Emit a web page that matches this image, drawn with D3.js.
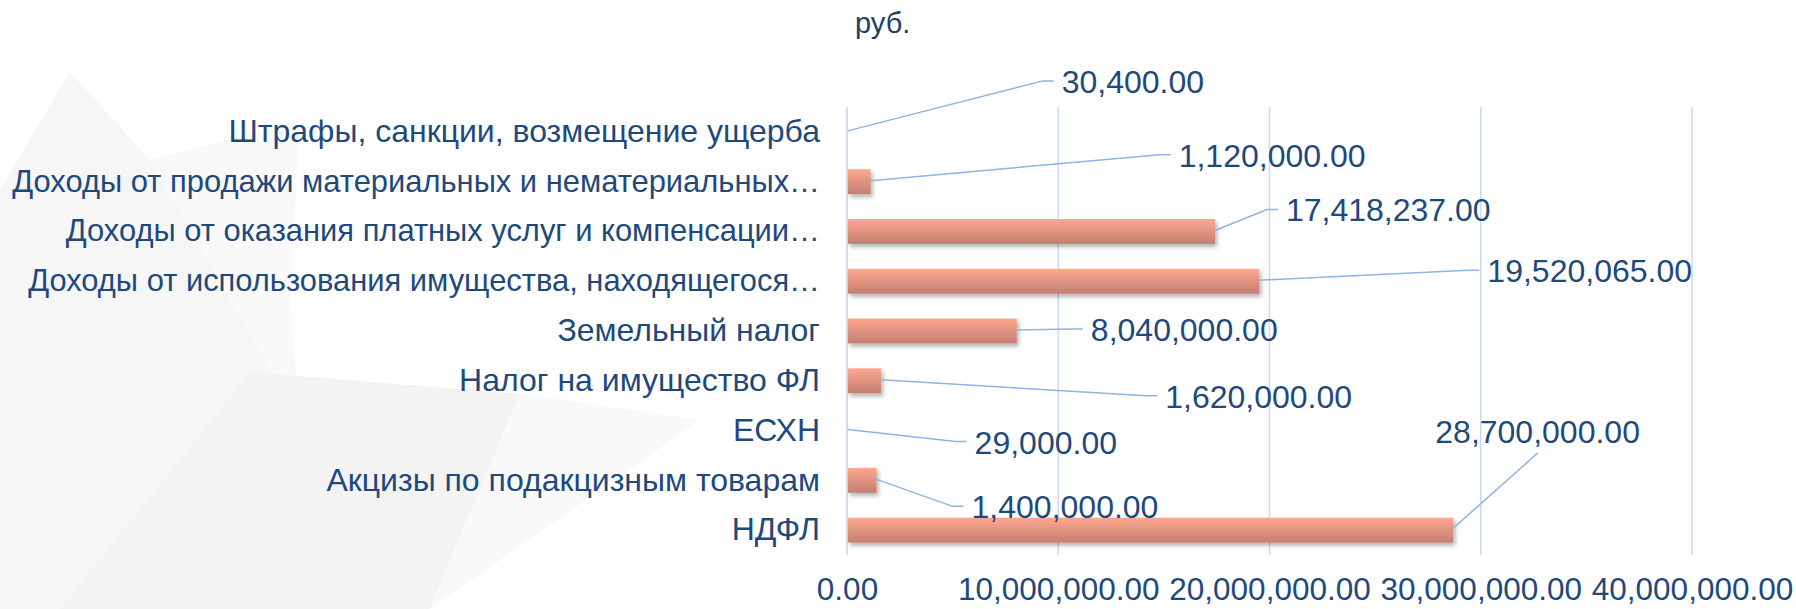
<!DOCTYPE html>
<html>
<head>
<meta charset="utf-8">
<script src="https://cdn.jsdelivr.net/npm/d3@7"></script>
<style>
  body { margin: 0; background: #ffffff; }
  svg text { font-family: "Liberation Sans", Arial, sans-serif; }
</style>
</head>
<body>
<div id="chart"></div>
<script>
var categories = [
  "Штрафы, санкции, возмещение ущерба",
  "Доходы от продажи материальных и нематериальных…",
  "Доходы от оказания платных услуг и компенсации…",
  "Доходы от использования имущества, находящегося…",
  "Земельный налог",
  "Налог на имущество ФЛ",
  "ЕСХН",
  "Акцизы по подакцизным товарам",
  "НДФЛ"
];
var values = [30400, 1120000, 17418237, 19520065, 8040000, 1620000, 29000, 1400000, 28700000];
var xTicks = [0, 10000000, 20000000, 30000000, 40000000];
var unitTitle = "руб.";

// where each value label was dragged to (px from bar end / band centre)
var labelDx = [214, 308, 71, 228, 74, 284, 127, 95, -18];
var labelDy = [-39, -15, -10, 1, 10, 27, 23, 38, -87];

var W = 1796, H = 609;
var textColor = "#1F497D", gridColor = "#C9DBF0", leaderColor = "#8DB4E2";

var svg = d3.select("#chart").append("svg")
    .attr("width", W)
    .attr("height", H);

var defs = svg.append("defs");
var grad = defs.append("linearGradient")
    .attr("id", "barGrad")
    .attr("x1", 0).attr("y1", 0).attr("x2", 0).attr("y2", 1);
grad.append("stop").attr("offset", "0%").attr("stop-color", "#FDA890");
grad.append("stop").attr("offset", "100%").attr("stop-color", "#C57E71");

defs.append("filter")
    .attr("id", "shadow")
    .attr("x", "-10%").attr("y", "-30%").attr("width", "130%").attr("height", "180%")
    .append("feDropShadow")
    .attr("dx", 2).attr("dy", 3)
    .attr("stdDeviation", 2)
    .attr("flood-color", "#000")
    .attr("flood-opacity", 0.3);

// faint watermark in the background
var bg = svg.append("g");
bg.append("path")
    .attr("d", "M0,190 L70,72 L150,160 L300,420 L250,609 L0,609 Z")
    .attr("fill", "#f6f6f6");
bg.append("path")
    .attr("d", "M150,160 L300,120 L290,300 L300,420 Z")
    .attr("fill", "#f9f9f9");
bg.append("path")
    .attr("d", "M250,372 L520,394 L430,609 L60,609 Z")
    .attr("fill", "#f3f3f3");
bg.append("path")
    .attr("d", "M520,394 L700,420 L430,609 Z")
    .attr("fill", "#f9f9f9");

var x = d3.scaleLinear()
    .domain([0, 40000000])
    .range([847, 1692]);

var y = d3.scaleBand()
    .domain(categories)
    .range([107, 555])
    .paddingInner(0.5)
    .paddingOuter(0.25);

var fmt = d3.format(",.2f");

// vertical gridlines
svg.append("g").selectAll("line")
    .data(xTicks.slice(1))
    .enter().append("line")
    .attr("x1", function(d){ return x(d); })
    .attr("x2", function(d){ return x(d); })
    .attr("y1", 107)
    .attr("y2", 555)
    .attr("stroke", gridColor)
    .attr("stroke-width", 1.5);

// category axis line
svg.append("line")
    .attr("x1", x(0)).attr("x2", x(0))
    .attr("y1", 107).attr("y2", 555)
    .attr("stroke", "#C5D5E8")
    .attr("stroke-width", 1.5);

// x tick labels
var xAxis = d3.axisBottom(x).tickValues(xTicks).tickFormat(fmt).tickSize(0);
var gx = svg.append("g")
    .attr("transform", "translate(0,555)")
    .call(xAxis);
gx.select(".domain").remove();
gx.selectAll("text")
    .attr("y", 45)
    .attr("dy", 0)
    .attr("fill", textColor)
    .attr("font-size", "31.5px")
    .attr("font-family", "Liberation Sans, Arial, sans-serif");

// category labels
var yAxis = d3.axisLeft(y).tickSize(0).tickPadding(27);
var gy = svg.append("g")
    .attr("transform", "translate(" + x(0) + ",0)")
    .call(yAxis);
gy.select(".domain").remove();
gy.selectAll("text")
    .attr("fill", textColor)
    .attr("font-size", function(d){ return d.slice(-1) === "…" ? "30.9px" : "32px"; })
    .attr("font-family", "Liberation Sans, Arial, sans-serif");

// bars
svg.append("g").selectAll("rect")
    .data(values)
    .enter().append("rect")
    .attr("x", x(0) + 1)
    .attr("y", function(d, i){ return y(categories[i]); })
    .attr("width", function(d){ return Math.max(0, x(d) - x(0) - 1); })
    .attr("height", y.bandwidth())
    .attr("fill", "url(#barGrad)")
    .attr("filter", "url(#shadow)");

// leader lines + value labels
var leaders = svg.append("g");
var labels = svg.append("g");
var i, ex, cy, tx, ty, pts, w;
for(i=0;i<values.length;i++){
    ex = x(values[i]);
    cy = y(categories[i]) + y.bandwidth()/2;
    tx = ex + labelDx[i];
    ty = cy + labelDy[i];

    var t = labels.append("text")
        .attr("x", tx)
        .attr("y", ty)
        .attr("fill", textColor)
        .attr("font-size", "32px")
        .text(fmt(values[i]));

    if(labelDy[i] < -60){
        w = t.node().getComputedTextLength();
        pts = [[ex, cy - 2], [tx + w/2, ty + 10]];
    } else {
        pts = [[ex, cy - 1], [tx - 19, ty - 12], [tx - 8, ty - 12]];
    }
    leaders.append("path")
        .attr("d", d3.line()(pts))
        .attr("fill", "none")
        .attr("stroke", leaderColor)
        .attr("stroke-width", 1.5);
}

// unit title
svg.append("text")
    .attr("x", 855)
    .attr("y", 33)
    .attr("fill", "#243F60")
    .attr("font-size", "29px")
    .text(unitTitle);
</script>
</body>
</html>
